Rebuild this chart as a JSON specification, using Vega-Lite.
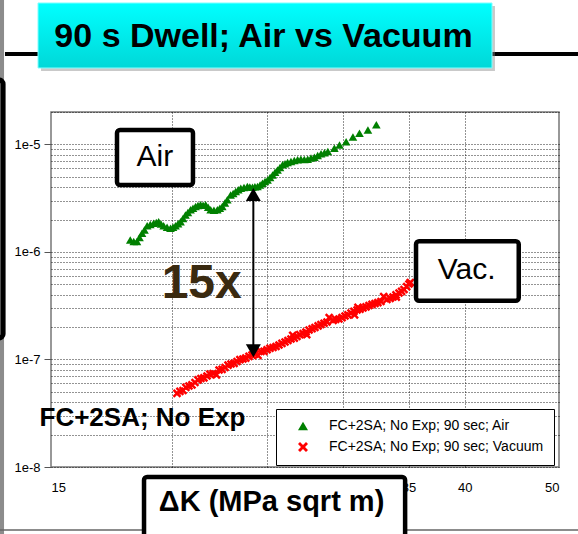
{
  "$schema": "https://vega.github.io/schema/vega-lite/v6.json",
  "width": 508,
  "height": 355,
  "autosize": "none",
  "padding": {"left": 51, "top": 112, "right": 19, "bottom": 67},
  "background": "white",
  "config": {
    "view": {"stroke": "#777777", "strokeWidth": 1.5},
    "font": "Liberation Sans"
  },
  "datasets": {
    "points": [
      {"x": 20.22, "y": 4.844e-8, "series": "FC+2SA; No Exp; 90 sec; Vacuum"},
      {"x": 20.36, "y": 5.05e-8, "series": "FC+2SA; No Exp; 90 sec; Vacuum"},
      {"x": 20.51, "y": 5.143e-8, "series": "FC+2SA; No Exp; 90 sec; Vacuum"},
      {"x": 20.65, "y": 5.50e-8, "series": "FC+2SA; No Exp; 90 sec; Vacuum"},
      {"x": 20.80, "y": 5.664e-8, "series": "FC+2SA; No Exp; 90 sec; Vacuum"},
      {"x": 20.95, "y": 5.80e-8, "series": "FC+2SA; No Exp; 90 sec; Vacuum"},
      {"x": 21.10, "y": 6.106e-8, "series": "FC+2SA; No Exp; 90 sec; Vacuum"},
      {"x": 21.25, "y": 6.45e-8, "series": "FC+2SA; No Exp; 90 sec; Vacuum"},
      {"x": 21.40, "y": 6.651e-8, "series": "FC+2SA; No Exp; 90 sec; Vacuum"},
      {"x": 21.55, "y": 6.75e-8, "series": "FC+2SA; No Exp; 90 sec; Vacuum"},
      {"x": 21.71, "y": 7.017e-8, "series": "FC+2SA; No Exp; 90 sec; Vacuum"},
      {"x": 21.86, "y": 7.30e-8, "series": "FC+2SA; No Exp; 90 sec; Vacuum"},
      {"x": 22.02, "y": 7.402e-8, "series": "FC+2SA; No Exp; 90 sec; Vacuum"},
      {"x": 22.20, "y": 7.20e-8, "series": "FC+2SA; No Exp; 90 sec; Vacuum"},
      {"x": 22.34, "y": 7.979e-8, "series": "FC+2SA; No Exp; 90 sec; Vacuum"},
      {"x": 22.50, "y": 8.10e-8, "series": "FC+2SA; No Exp; 90 sec; Vacuum"},
      {"x": 22.66, "y": 8.418e-8, "series": "FC+2SA; No Exp; 90 sec; Vacuum"},
      {"x": 22.82, "y": 8.85e-8, "series": "FC+2SA; No Exp; 90 sec; Vacuum"},
      {"x": 22.98, "y": 9.074e-8, "series": "FC+2SA; No Exp; 90 sec; Vacuum"},
      {"x": 23.15, "y": 9.20e-8, "series": "FC+2SA; No Exp; 90 sec; Vacuum"},
      {"x": 23.31, "y": 9.573e-8, "series": "FC+2SA; No Exp; 90 sec; Vacuum"},
      {"x": 23.47, "y": 9.95e-8, "series": "FC+2SA; No Exp; 90 sec; Vacuum"},
      {"x": 23.64, "y": 1.010e-7, "series": "FC+2SA; No Exp; 90 sec; Vacuum"},
      {"x": 23.80, "y": 1.03e-7, "series": "FC+2SA; No Exp; 90 sec; Vacuum"},
      {"x": 23.98, "y": 1.070e-7, "series": "FC+2SA; No Exp; 90 sec; Vacuum"},
      {"x": 24.15, "y": 1.10e-7, "series": "FC+2SA; No Exp; 90 sec; Vacuum"},
      {"x": 24.33, "y": 1.124e-7, "series": "FC+2SA; No Exp; 90 sec; Vacuum"},
      {"x": 24.50, "y": 1.09e-7, "series": "FC+2SA; No Exp; 90 sec; Vacuum"},
      {"x": 24.67, "y": 1.186e-7, "series": "FC+2SA; No Exp; 90 sec; Vacuum"},
      {"x": 24.85, "y": 1.19e-7, "series": "FC+2SA; No Exp; 90 sec; Vacuum"},
      {"x": 25.03, "y": 1.230e-7, "series": "FC+2SA; No Exp; 90 sec; Vacuum"},
      {"x": 25.20, "y": 1.27e-7, "series": "FC+2SA; No Exp; 90 sec; Vacuum"},
      {"x": 25.39, "y": 1.292e-7, "series": "FC+2SA; No Exp; 90 sec; Vacuum"},
      {"x": 25.57, "y": 1.32e-7, "series": "FC+2SA; No Exp; 90 sec; Vacuum"},
      {"x": 25.75, "y": 1.363e-7, "series": "FC+2SA; No Exp; 90 sec; Vacuum"},
      {"x": 25.93, "y": 1.41e-7, "series": "FC+2SA; No Exp; 90 sec; Vacuum"},
      {"x": 26.12, "y": 1.453e-7, "series": "FC+2SA; No Exp; 90 sec; Vacuum"},
      {"x": 26.30, "y": 1.50e-7, "series": "FC+2SA; No Exp; 90 sec; Vacuum"},
      {"x": 26.49, "y": 1.550e-7, "series": "FC+2SA; No Exp; 90 sec; Vacuum"},
      {"x": 26.60, "y": 1.68e-7, "series": "FC+2SA; No Exp; 90 sec; Vacuum"},
      {"x": 26.70, "y": 1.58e-7, "series": "FC+2SA; No Exp; 90 sec; Vacuum"},
      {"x": 26.87, "y": 1.635e-7, "series": "FC+2SA; No Exp; 90 sec; Vacuum"},
      {"x": 27.05, "y": 1.70e-7, "series": "FC+2SA; No Exp; 90 sec; Vacuum"},
      {"x": 27.26, "y": 1.743e-7, "series": "FC+2SA; No Exp; 90 sec; Vacuum"},
      {"x": 27.45, "y": 1.80e-7, "series": "FC+2SA; No Exp; 90 sec; Vacuum"},
      {"x": 27.50, "y": 1.70e-7, "series": "FC+2SA; No Exp; 90 sec; Vacuum"},
      {"x": 27.65, "y": 1.879e-7, "series": "FC+2SA; No Exp; 90 sec; Vacuum"},
      {"x": 27.85, "y": 1.93e-7, "series": "FC+2SA; No Exp; 90 sec; Vacuum"},
      {"x": 28.04, "y": 1.982e-7, "series": "FC+2SA; No Exp; 90 sec; Vacuum"},
      {"x": 28.25, "y": 2.05e-7, "series": "FC+2SA; No Exp; 90 sec; Vacuum"},
      {"x": 28.44, "y": 2.113e-7, "series": "FC+2SA; No Exp; 90 sec; Vacuum"},
      {"x": 28.65, "y": 2.17e-7, "series": "FC+2SA; No Exp; 90 sec; Vacuum"},
      {"x": 28.85, "y": 2.229e-7, "series": "FC+2SA; No Exp; 90 sec; Vacuum"},
      {"x": 29.00, "y": 2.45e-7, "series": "FC+2SA; No Exp; 90 sec; Vacuum"},
      {"x": 29.27, "y": 2.312e-7, "series": "FC+2SA; No Exp; 90 sec; Vacuum"},
      {"x": 29.45, "y": 2.36e-7, "series": "FC+2SA; No Exp; 90 sec; Vacuum"},
      {"x": 29.68, "y": 2.377e-7, "series": "FC+2SA; No Exp; 90 sec; Vacuum"},
      {"x": 29.90, "y": 2.45e-7, "series": "FC+2SA; No Exp; 90 sec; Vacuum"},
      {"x": 30.11, "y": 2.535e-7, "series": "FC+2SA; No Exp; 90 sec; Vacuum"},
      {"x": 30.32, "y": 2.60e-7, "series": "FC+2SA; No Exp; 90 sec; Vacuum"},
      {"x": 30.54, "y": 2.704e-7, "series": "FC+2SA; No Exp; 90 sec; Vacuum"},
      {"x": 30.75, "y": 2.80e-7, "series": "FC+2SA; No Exp; 90 sec; Vacuum"},
      {"x": 30.80, "y": 2.60e-7, "series": "FC+2SA; No Exp; 90 sec; Vacuum"},
      {"x": 30.98, "y": 2.884e-7, "series": "FC+2SA; No Exp; 90 sec; Vacuum"},
      {"x": 31.05, "y": 3.05e-7, "series": "FC+2SA; No Exp; 90 sec; Vacuum"},
      {"x": 31.20, "y": 2.93e-7, "series": "FC+2SA; No Exp; 90 sec; Vacuum"},
      {"x": 31.42, "y": 3.010e-7, "series": "FC+2SA; No Exp; 90 sec; Vacuum"},
      {"x": 31.65, "y": 3.08e-7, "series": "FC+2SA; No Exp; 90 sec; Vacuum"},
      {"x": 31.87, "y": 3.175e-7, "series": "FC+2SA; No Exp; 90 sec; Vacuum"},
      {"x": 32.10, "y": 3.25e-7, "series": "FC+2SA; No Exp; 90 sec; Vacuum"},
      {"x": 32.33, "y": 3.314e-7, "series": "FC+2SA; No Exp; 90 sec; Vacuum"},
      {"x": 32.55, "y": 3.38e-7, "series": "FC+2SA; No Exp; 90 sec; Vacuum"},
      {"x": 32.79, "y": 3.459e-7, "series": "FC+2SA; No Exp; 90 sec; Vacuum"},
      {"x": 33.00, "y": 3.85e-7, "series": "FC+2SA; No Exp; 90 sec; Vacuum"},
      {"x": 33.26, "y": 3.610e-7, "series": "FC+2SA; No Exp; 90 sec; Vacuum"},
      {"x": 33.50, "y": 3.70e-7, "series": "FC+2SA; No Exp; 90 sec; Vacuum"},
      {"x": 33.74, "y": 3.808e-7, "series": "FC+2SA; No Exp; 90 sec; Vacuum"},
      {"x": 33.98, "y": 3.98e-7, "series": "FC+2SA; No Exp; 90 sec; Vacuum"},
      {"x": 34.00, "y": 3.80e-7, "series": "FC+2SA; No Exp; 90 sec; Vacuum"},
      {"x": 34.22, "y": 4.150e-7, "series": "FC+2SA; No Exp; 90 sec; Vacuum"},
      {"x": 34.43, "y": 4.30e-7, "series": "FC+2SA; No Exp; 90 sec; Vacuum"},
      {"x": 34.63, "y": 4.472e-7, "series": "FC+2SA; No Exp; 90 sec; Vacuum"},
      {"x": 34.85, "y": 4.75e-7, "series": "FC+2SA; No Exp; 90 sec; Vacuum"},
      {"x": 35.04, "y": 5.031e-7, "series": "FC+2SA; No Exp; 90 sec; Vacuum"},
      {"x": 35.15, "y": 5.20e-7, "series": "FC+2SA; No Exp; 90 sec; Vacuum"},
      {"x": 18.10, "y": 1.29e-6, "series": "FC+2SA; No Exp; 90 sec; Air"},
      {"x": 18.25, "y": 1.25e-6, "series": "FC+2SA; No Exp; 90 sec; Air"},
      {"x": 18.39, "y": 1.25e-6, "series": "FC+2SA; No Exp; 90 sec; Air"},
      {"x": 18.50, "y": 1.36e-6, "series": "FC+2SA; No Exp; 90 sec; Air"},
      {"x": 18.61, "y": 1.49e-6, "series": "FC+2SA; No Exp; 90 sec; Air"},
      {"x": 18.72, "y": 1.60e-6, "series": "FC+2SA; No Exp; 90 sec; Air"},
      {"x": 18.84, "y": 1.75e-6, "series": "FC+2SA; No Exp; 90 sec; Air"},
      {"x": 18.98, "y": 1.80e-6, "series": "FC+2SA; No Exp; 90 sec; Air"},
      {"x": 19.13, "y": 1.85e-6, "series": "FC+2SA; No Exp; 90 sec; Air"},
      {"x": 19.25, "y": 1.88e-6, "series": "FC+2SA; No Exp; 90 sec; Air"},
      {"x": 19.36, "y": 1.91e-6, "series": "FC+2SA; No Exp; 90 sec; Air"},
      {"x": 19.47, "y": 1.82e-6, "series": "FC+2SA; No Exp; 90 sec; Air"},
      {"x": 19.59, "y": 1.75e-6, "series": "FC+2SA; No Exp; 90 sec; Air"},
      {"x": 19.75, "y": 1.70e-6, "series": "FC+2SA; No Exp; 90 sec; Air"},
      {"x": 19.91, "y": 1.66e-6, "series": "FC+2SA; No Exp; 90 sec; Air"},
      {"x": 20.03, "y": 1.70e-6, "series": "FC+2SA; No Exp; 90 sec; Air"},
      {"x": 20.15, "y": 1.75e-6, "series": "FC+2SA; No Exp; 90 sec; Air"},
      {"x": 20.27, "y": 1.83e-6, "series": "FC+2SA; No Exp; 90 sec; Air"},
      {"x": 20.39, "y": 1.91e-6, "series": "FC+2SA; No Exp; 90 sec; Air"},
      {"x": 20.51, "y": 2.05e-6, "series": "FC+2SA; No Exp; 90 sec; Air"},
      {"x": 20.63, "y": 2.21e-6, "series": "FC+2SA; No Exp; 90 sec; Air"},
      {"x": 20.75, "y": 2.33e-6, "series": "FC+2SA; No Exp; 90 sec; Air"},
      {"x": 20.88, "y": 2.46e-6, "series": "FC+2SA; No Exp; 90 sec; Air"},
      {"x": 21.00, "y": 2.55e-6, "series": "FC+2SA; No Exp; 90 sec; Air"},
      {"x": 21.13, "y": 2.64e-6, "series": "FC+2SA; No Exp; 90 sec; Air"},
      {"x": 21.25, "y": 2.70e-6, "series": "FC+2SA; No Exp; 90 sec; Air"},
      {"x": 21.38, "y": 2.74e-6, "series": "FC+2SA; No Exp; 90 sec; Air"},
      {"x": 21.51, "y": 2.72e-6, "series": "FC+2SA; No Exp; 90 sec; Air"},
      {"x": 21.64, "y": 2.74e-6, "series": "FC+2SA; No Exp; 90 sec; Air"},
      {"x": 21.77, "y": 2.60e-6, "series": "FC+2SA; No Exp; 90 sec; Air"},
      {"x": 21.90, "y": 2.46e-6, "series": "FC+2SA; No Exp; 90 sec; Air"},
      {"x": 22.07, "y": 2.44e-6, "series": "FC+2SA; No Exp; 90 sec; Air"},
      {"x": 22.25, "y": 2.46e-6, "series": "FC+2SA; No Exp; 90 sec; Air"},
      {"x": 22.38, "y": 2.55e-6, "series": "FC+2SA; No Exp; 90 sec; Air"},
      {"x": 22.51, "y": 2.64e-6, "series": "FC+2SA; No Exp; 90 sec; Air"},
      {"x": 22.65, "y": 2.85e-6, "series": "FC+2SA; No Exp; 90 sec; Air"},
      {"x": 22.78, "y": 3.05e-6, "series": "FC+2SA; No Exp; 90 sec; Air"},
      {"x": 22.96, "y": 3.39e-6, "series": "FC+2SA; No Exp; 90 sec; Air"},
      {"x": 23.10, "y": 3.50e-6, "series": "FC+2SA; No Exp; 90 sec; Air"},
      {"x": 23.24, "y": 3.64e-6, "series": "FC+2SA; No Exp; 90 sec; Air"},
      {"x": 23.38, "y": 3.78e-6, "series": "FC+2SA; No Exp; 90 sec; Air"},
      {"x": 23.52, "y": 3.91e-6, "series": "FC+2SA; No Exp; 90 sec; Air"},
      {"x": 23.70, "y": 3.98e-6, "series": "FC+2SA; No Exp; 90 sec; Air"},
      {"x": 23.89, "y": 4.05e-6, "series": "FC+2SA; No Exp; 90 sec; Air"},
      {"x": 24.03, "y": 4.02e-6, "series": "FC+2SA; No Exp; 90 sec; Air"},
      {"x": 24.18, "y": 4.00e-6, "series": "FC+2SA; No Exp; 90 sec; Air"},
      {"x": 24.32, "y": 4.03e-6, "series": "FC+2SA; No Exp; 90 sec; Air"},
      {"x": 24.47, "y": 4.05e-6, "series": "FC+2SA; No Exp; 90 sec; Air"},
      {"x": 24.62, "y": 4.20e-6, "series": "FC+2SA; No Exp; 90 sec; Air"},
      {"x": 24.76, "y": 4.36e-6, "series": "FC+2SA; No Exp; 90 sec; Air"},
      {"x": 24.91, "y": 4.52e-6, "series": "FC+2SA; No Exp; 90 sec; Air"},
      {"x": 25.06, "y": 4.67e-6, "series": "FC+2SA; No Exp; 90 sec; Air"},
      {"x": 25.21, "y": 4.93e-6, "series": "FC+2SA; No Exp; 90 sec; Air"},
      {"x": 25.36, "y": 5.20e-6, "series": "FC+2SA; No Exp; 90 sec; Air"},
      {"x": 25.51, "y": 5.50e-6, "series": "FC+2SA; No Exp; 90 sec; Air"},
      {"x": 25.66, "y": 5.79e-6, "series": "FC+2SA; No Exp; 90 sec; Air"},
      {"x": 25.81, "y": 6.10e-6, "series": "FC+2SA; No Exp; 90 sec; Air"},
      {"x": 25.97, "y": 6.45e-6, "series": "FC+2SA; No Exp; 90 sec; Air"},
      {"x": 26.12, "y": 6.62e-6, "series": "FC+2SA; No Exp; 90 sec; Air"},
      {"x": 26.28, "y": 6.77e-6, "series": "FC+2SA; No Exp; 90 sec; Air"},
      {"x": 26.49, "y": 6.93e-6, "series": "FC+2SA; No Exp; 90 sec; Air"},
      {"x": 26.70, "y": 7.07e-6, "series": "FC+2SA; No Exp; 90 sec; Air"},
      {"x": 26.91, "y": 7.18e-6, "series": "FC+2SA; No Exp; 90 sec; Air"},
      {"x": 27.12, "y": 7.28e-6, "series": "FC+2SA; No Exp; 90 sec; Air"},
      {"x": 27.34, "y": 7.25e-6, "series": "FC+2SA; No Exp; 90 sec; Air"},
      {"x": 27.56, "y": 7.28e-6, "series": "FC+2SA; No Exp; 90 sec; Air"},
      {"x": 27.78, "y": 7.45e-6, "series": "FC+2SA; No Exp; 90 sec; Air"},
      {"x": 28.00, "y": 7.60e-6, "series": "FC+2SA; No Exp; 90 sec; Air"},
      {"x": 28.22, "y": 7.90e-6, "series": "FC+2SA; No Exp; 90 sec; Air"},
      {"x": 28.45, "y": 8.16e-6, "series": "FC+2SA; No Exp; 90 sec; Air"},
      {"x": 28.68, "y": 8.35e-6, "series": "FC+2SA; No Exp; 90 sec; Air"},
      {"x": 28.91, "y": 8.57e-6, "series": "FC+2SA; No Exp; 90 sec; Air"},
      {"x": 29.36, "y": 9.22e-6, "series": "FC+2SA; No Exp; 90 sec; Air"},
      {"x": 29.72, "y": 9.89e-6, "series": "FC+2SA; No Exp; 90 sec; Air"},
      {"x": 30.19, "y": 1.06e-5, "series": "FC+2SA; No Exp; 90 sec; Air"},
      {"x": 30.68, "y": 1.17e-5, "series": "FC+2SA; No Exp; 90 sec; Air"},
      {"x": 31.16, "y": 1.27e-5, "series": "FC+2SA; No Exp; 90 sec; Air"},
      {"x": 31.79, "y": 1.36e-5, "series": "FC+2SA; No Exp; 90 sec; Air"},
      {"x": 32.43, "y": 1.52e-5, "series": "FC+2SA; No Exp; 90 sec; Air"}
    ],
    "boxes": [
      {"label": "Air", "x": 17.54, "x2": 21.0, "y": 1.36e-5, "y2": 4.19e-6},
      {"label": "Vac.", "x": 35.63, "x2": 45.45, "y": 1.256e-6, "y2": 3.518e-7},
      {"label": "ΔK (MPa sqrt m)", "x": 18.7, "x2": 34.72, "y": 8.074e-9, "y2": 1.882e-9}
    ],
    "boxLabels": [
      {"x": 19.19, "y": 7.58e-6, "text": "Air"},
      {"x": 40.18, "y": 6.79e-7, "text": "Vac."}
    ]
  },
  "encoding": {
    "x": {
      "field": "x",
      "type": "quantitative",
      "scale": {"type": "log", "domain": [15, 50], "nice": false},
      "axis": {
        "values": [15, 20, 25, 30, 35, 40, 50],
        "labelExpr": "datum.value == 20 || datum.value == 25 || datum.value == 30 ? '' : format(datum.value, 'd')",
        "title": null,
        "domain": false,
        "ticks": false,
        "labelPadding": 14,
        "labelFontSize": 13,
        "labelColor": "#000000",
        "labelFont": "Liberation Sans",
        "grid": true,
        "gridDash": [1, 2],
        "gridColor": "#000000",
        "gridOpacity": {"condition": {"test": "datum.value == 15 || datum.value == 50", "value": 0}, "value": 0.85}
      }
    },
    "y": {
      "field": "y",
      "type": "quantitative",
      "scale": {"type": "log", "domain": [1e-8, 2e-5], "nice": false},
      "axis": {
        "values": [1e-8, 2e-8, 3e-8, 4e-8, 5e-8, 6e-8, 7e-8, 8e-8, 9e-8, 1e-7, 2e-7, 3e-7, 4e-7, 5e-7, 6e-7, 7e-7, 8e-7, 9e-7, 1e-6, 2e-6, 3e-6, 4e-6, 5e-6, 6e-6, 7e-6, 8e-6, 9e-6, 1e-5, 2e-5],
        "labelExpr": "abs(log(datum.value)/LN10 - round(log(datum.value)/LN10)) < 0.01 ? '1e' + round(log(datum.value)/LN10) : ''",
        "tickOpacity": {"condition": {"test": "abs(log(datum.value)/LN10 - round(log(datum.value)/LN10)) < 0.01", "value": 1}, "value": 0},
        "title": null,
        "domain": false,
        "tickSize": 7,
        "tickColor": "#555555",
        "labelPadding": 4,
        "labelFontSize": 13,
        "labelColor": "#000000",
        "labelFont": "Liberation Sans",
        "grid": true,
        "gridDash": [1, 2],
        "gridColor": "#000000",
        "gridOpacity": 0.85
      }
    }
  },
  "layer": [
    {
      "data": {"values": [{"x": 13.14, "x2": 13.42, "y": 2.2e-4, "y2": 2.381e-9}]},
      "mark": {"type": "rect", "color": "#8c8c8c"},
      "encoding": {"x2": {"field": "x2"}, "y2": {"field": "y2"}}
    },
    {
      "data": {"values": [{"x": 12.68, "x2": 13.39, "y": 3.97e-5, "y2": 1.583e-7}]},
      "mark": {"type": "rect", "fill": null, "stroke": "#000000", "strokeWidth": 5, "cornerRadius": 4},
      "encoding": {"x2": {"field": "x2"}, "y2": {"field": "y2"}}
    },
    {
      "data": {"values": [{"x": 13.45, "x2": 52.31, "y": 6.926e-5}]},
      "mark": {"type": "rule", "color": "#000000", "strokeWidth": 4},
      "encoding": {"x2": {"field": "x2"}}
    },
    {
      "data": {"values": [{"x": 13.29, "x2": 52.31, "y": 2.596e-9}]},
      "mark": {"type": "rule", "color": "#666666", "strokeWidth": 1.5},
      "encoding": {"x2": {"field": "x2"}}
    },
    {
      "data": {"name": "points"},
      "mark": {"type": "point", "filled": true, "opacity": 1, "size": 75},
      "encoding": {
        "color": {
          "field": "series",
          "type": "nominal",
          "scale": {"domain": ["FC+2SA; No Exp; 90 sec; Air", "FC+2SA; No Exp; 90 sec; Vacuum"], "range": ["#008000", "#ff0000"]},
          "legend": {
            "title": null,
            "orient": "none",
            "legendX": 225,
            "legendY": 297,
            "padding": 10,
            "symbolOffset": 10,
            "symbolSize": 100,
            "labelOffset": 19,
            "rowPadding": 5,
            "labelFontSize": 14,
            "labelFont": "Liberation Sans",
            "labelColor": "#000000",
            "labelLimit": 400,
            "strokeColor": "#000000",
            "fillColor": "#ffffff",
            "symbolOpacity": 1
          }
        },
        "shape": {
          "field": "series",
          "type": "nominal",
          "scale": {"domain": ["FC+2SA; No Exp; 90 sec; Air", "FC+2SA; No Exp; 90 sec; Vacuum"], "range": ["triangle-up", "M-1,-0.6L-0.6,-1L0,-0.4L0.6,-1L1,-0.6L0.4,0L1,0.6L0.6,1L0,0.4L-0.6,1L-1,0.6L-0.4,0Z"]},
          "legend": {
            "title": null,
            "orient": "none",
            "legendX": 225,
            "legendY": 297,
            "padding": 10,
            "symbolOffset": 10,
            "symbolSize": 100,
            "labelOffset": 19,
            "rowPadding": 5,
            "labelFontSize": 14,
            "labelFont": "Liberation Sans",
            "labelColor": "#000000",
            "labelLimit": 400,
            "strokeColor": "#000000",
            "fillColor": "#ffffff",
            "symbolOpacity": 1
          }
        }
      }
    },
    {
      "data": {"values": [{"x": 24.23, "y": 3.42e-6, "y2": 1.204e-7}]},
      "mark": {"type": "rule", "color": "#000000", "strokeWidth": 2},
      "encoding": {"y2": {"field": "y2"}}
    },
    {
      "data": {"values": [{"x": 24.23, "y": 3.42e-6}]},
      "mark": {"type": "point", "shape": "triangle-up", "filled": true, "color": "#000000", "size": 225, "opacity": 1}
    },
    {
      "data": {"values": [{"x": 24.23, "y": 1.204e-7}]},
      "mark": {"type": "point", "shape": "triangle-down", "filled": true, "color": "#000000", "size": 225, "opacity": 1}
    },
    {
      "data": {"name": "boxes"},
      "mark": {"type": "rect", "fill": "#ffffff", "stroke": "#000000", "strokeWidth": 4.5, "cornerRadius": 3},
      "encoding": {"x2": {"field": "x2"}, "y2": {"field": "y2"}}
    },
    {
      "data": {"name": "boxLabels"},
      "mark": {"type": "text", "fontSize": 30, "font": "Liberation Sans", "color": "#000000", "align": "center", "baseline": "middle"},
      "encoding": {"text": {"field": "text"}}
    },
    {
      "data": {"values": [{"x": 21.44, "y": 5.03e-7, "text": "15x"}]},
      "mark": {"type": "text", "fontSize": 48, "fontWeight": "bold", "font": "Liberation Sans", "color": "#3a2a10", "align": "center", "baseline": "middle"},
      "encoding": {"text": {"field": "text"}}
    },
    {
      "data": {"values": [{"x": 18.63, "y": 2.837e-8, "text": "FC+2SA; No Exp"}]},
      "mark": {"type": "text", "fontSize": 26, "fontWeight": "bold", "font": "Liberation Sans", "color": "#000000", "align": "center", "baseline": "middle"},
      "encoding": {"text": {"field": "text"}}
    },
    {
      "data": {"values": [{"x": 25.30, "y": 4.756e-9, "text": "ΔK (MPa sqrt m)"}]},
      "mark": {"type": "text", "fontSize": 29, "fontWeight": "bold", "font": "Liberation Sans", "color": "#000000", "align": "center", "baseline": "middle"},
      "encoding": {"text": {"field": "text"}}
    },
    {
      "data": {"values": [{"x": 14.65, "x2": 42.96, "y": 1.935e-4, "y2": 4.812e-5}]},
      "mark": {"type": "rect", "color": "#888888", "opacity": 0.45},
      "encoding": {"x2": {"field": "x2"}, "y2": {"field": "y2"}}
    },
    {
      "data": {"values": [{"x": 14.545, "x2": 42.66, "y": 2.064e-4, "y2": 5.132e-5}]},
      "mark": {
        "type": "rect",
        "fill": {"gradient": "linear", "x1": 0, "y1": 0, "x2": 0, "y2": 1, "stops": [{"offset": 0, "color": "#00ffff"}, {"offset": 1, "color": "#00d8d8"}]},
        "stroke": "#7fffff",
        "strokeWidth": 1
      },
      "encoding": {"x2": {"field": "x2"}, "y2": {"field": "y2"}}
    },
    {
      "data": {"values": [{"x": 24.82, "y": 9.966e-5, "text": "90 s Dwell; Air vs Vacuum"}]},
      "mark": {"type": "text", "fontSize": 34, "fontWeight": "bold", "font": "Liberation Sans", "color": "#000000", "align": "center", "baseline": "middle"},
      "encoding": {"text": {"field": "text"}}
    }
  ]
}
